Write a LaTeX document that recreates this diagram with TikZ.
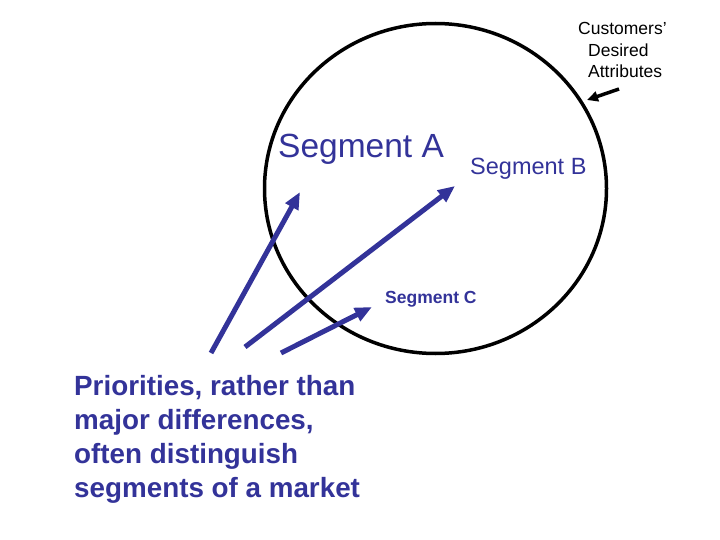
\documentclass[tikz,border=0pt]{standalone}
\usepackage{fontspec}
\setmainfont{Liberation Sans}
\usetikzlibrary{arrows.meta}
\definecolor{navy}{HTML}{333399}

\begin{document}
\begin{tikzpicture}[x=1pt, y=-1pt,
    lbl/.style={inner sep=0pt, anchor=base west, text=navy},
    pick/.style={-{Triangle[length=17pt,width=14pt]}, navy, line width=5pt}]
  \useasboundingbox (0,0) rectangle (720,540);

  % market circle
  \draw[line width=3.5pt] (435.5,188.5) ellipse [x radius=171, y radius=165];

  \node[lbl, font=\fontsize{33.5}{40}\selectfont] (a) at (278,158) {Segment A};
  \node[lbl, font=\fontsize{23.5}{28}\selectfont] (b) at (470,175) {Segment B};
  \node[lbl, font=\fontsize{17.5}{21}\selectfont\bfseries] (c) at (385,303) {Segment C};

  \node[inner sep=0pt, anchor=base west, align=left, font=\fontsize{17.5}{21.5}\selectfont]
    (attr) at (578,78) {Customers’\\\hspace*{10pt}Desired\\\hspace*{10pt}Attributes};
  \node[lbl, align=left, font=\fontsize{27.8}{34}\selectfont\bfseries]
    (note) at (74,497) {Priorities, rather than\\major differences,\\often distinguish\\segments of a market};

  % arrows
  \coordinate (s1) at (211,353); \coordinate (t1) at (300,192);
  \coordinate (s2) at (245,347); \coordinate (t2) at (455,186);
  \coordinate (s3) at (281,353); \coordinate (t3) at (372,307);
  \foreach \s/\t in {s1/t1, s2/t2, s3/t3} \draw[pick] (\s) -- (\t);

  \coordinate (p) at (619,89); \coordinate (q) at (587,100);
  \draw[-{Triangle[length=11pt,width=10pt]}, line width=3.5pt] (p) -- (q);
\end{tikzpicture}
\end{document}
